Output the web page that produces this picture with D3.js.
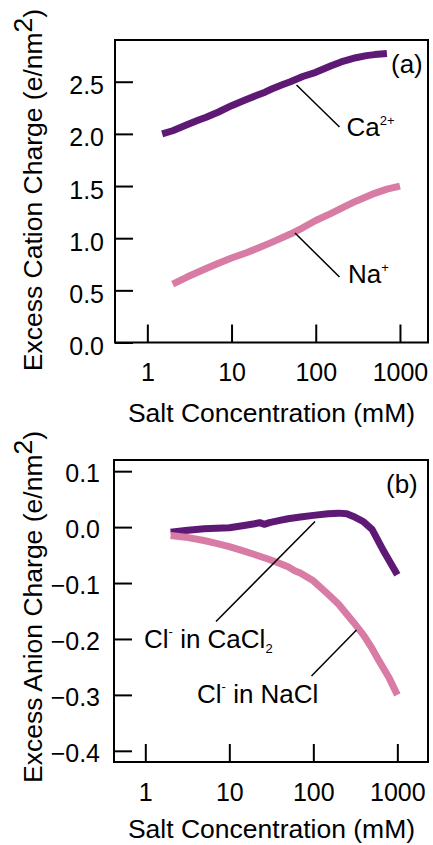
<!DOCTYPE html>
<html>
<head>
<meta charset="utf-8">
<script src="https://cdn.jsdelivr.net/npm/d3@7"></script>
<style>
  html, body { margin: 0; padding: 0; background: #fff; }
  svg { display: block; font-family: "Liberation Sans", Arial, Helvetica, sans-serif; }
</style>
</head>
<body>
<svg id="chart" width="433" height="845"></svg>
<script>
// Salt concentrations (mM) and excess charge (e/nm^2)
const caConc   = [1.5, 2, 3, 4, 5, 7, 10, 15, 20, 25, 30, 40, 50, 70, 100, 150, 200, 300, 400, 500, 700];
const caCation = [2.00, 2.03, 2.09, 2.13, 2.16, 2.21, 2.27, 2.33, 2.37, 2.40, 2.43, 2.47, 2.50, 2.55, 2.59, 2.65, 2.69, 2.73, 2.75, 2.76, 2.77];

const naConc   = [2, 3, 5, 7, 10, 15, 20, 30, 50, 70, 100, 150, 200, 300, 500, 700, 1000];
const naCation = [0.56, 0.63, 0.71, 0.76, 0.81, 0.86, 0.90, 0.96, 1.04, 1.10, 1.17, 1.235, 1.285, 1.355, 1.43, 1.47, 1.50];

const clCaConc  = [2, 3, 5, 7, 10, 15, 20, 23, 26, 30, 40, 50, 70, 100, 150, 200, 250, 300, 350, 400, 500, 700, 1000];
const clInCaCl2 = [-0.009, -0.006, -0.003, -0.002, -0.001, 0.003, 0.006, 0.008, 0.005, 0.008, 0.012, 0.015, 0.018, 0.021, 0.024, 0.025, 0.024, 0.019, 0.014, 0.009, -0.004, -0.045, -0.085];

const clNaConc  = [2, 3, 5, 7, 10, 15, 20, 30, 40, 50, 60, 70, 100, 150, 200, 300, 400, 500, 600, 700, 800, 1000];
const clInNaCl  = [-0.015, -0.018, -0.024, -0.029, -0.035, -0.043, -0.049, -0.058, -0.065, -0.071, -0.078, -0.082, -0.096, -0.120, -0.138, -0.170, -0.194, -0.217, -0.238, -0.255, -0.270, -0.300];

const xTicks  = [1, 10, 100, 1000];
const yTicksA = [0.0, 0.5, 1.0, 1.5, 2.0, 2.5];
const yTicksB = [-0.4, -0.3, -0.2, -0.1, 0.0, 0.1];

const PURPLE = "#5e1975";
const PINK   = "#d87ca6";

const svg = d3.select("#chart");

function panel(cfg) {
  const g = svg.append("g");
  const x = d3.scaleLog().domain(cfg.xDomain).range([cfg.left, cfg.right]);
  const y = d3.scaleLinear().domain(cfg.yDomain).range([cfg.bottom, cfg.top]);

  // y axis with inward ticks
  const ya = g.append("g")
    .attr("transform", `translate(${cfg.left},0)`)
    .call(d3.axisLeft(y).tickValues(cfg.yTicks).tickFormat(d3.format(".1f"))
      .tickSizeInner(-18).tickSizeOuter(0).tickPadding(cfg.yPad));
  ya.select(".domain").remove();
  ya.selectAll(".tick line").attr("stroke", "#000").attr("stroke-width", 2);
  ya.selectAll(".tick text").attr("font-size", 25).attr("fill", "#000")
    .attr("font-family", "Liberation Sans, Arial, sans-serif")
    .attr("dy", cfg.yDy);

  // x axis with inward ticks
  const xa = g.append("g")
    .attr("transform", `translate(0,${cfg.bottom})`)
    .call(d3.axisBottom(x).tickValues(xTicks).tickFormat(d3.format("d"))
      .tickSizeInner(-18).tickSizeOuter(0).tickPadding(21));
  xa.select(".domain").remove();
  xa.selectAll(".tick line").attr("stroke", "#000").attr("stroke-width", 2);
  xa.selectAll(".tick text").attr("font-size", 25).attr("fill", "#000")
    .attr("font-family", "Liberation Sans, Arial, sans-serif")
    .attr("dy", "0.71em");

  // frame
  g.append("rect")
    .attr("x", cfg.left).attr("y", cfg.top)
    .attr("width", cfg.right - cfg.left).attr("height", cfg.bottom - cfg.top)
    .attr("fill", "none").attr("stroke", "#000").attr("stroke-width", 2);

  const line = d3.line().x(d => x(d[0])).y(d => y(d[1]));
  cfg.series.forEach(s => {
    g.append("path")
      .datum(d3.zip(s.conc, s.vals))
      .attr("d", line)
      .attr("fill", "none")
      .attr("stroke", s.color)
      .attr("stroke-width", 7)
      .attr("stroke-linejoin", "round")
      .attr("stroke-linecap", "butt");
  });

  // axis titles
  g.append("text")
    .attr("x", 271.5).attr("y", cfg.bottom + cfg.xTitleGap)
    .attr("text-anchor", "middle").attr("font-size", 26.5)
    .text("Salt Concentration (mM)");

  const yt = g.append("text")
    .attr("transform", `translate(42,${cfg.yTitleCenter}) rotate(-90)`)
    .attr("text-anchor", "middle").attr("font-size", 26.5);
  yt.append("tspan").text(cfg.yTitle + " (e/nm");
  yt.append("tspan").attr("dy", -10).text("2");
  yt.append("tspan").attr("dy", 10).text(")");

  // panel tag
  g.append("text")
    .attr("x", cfg.tagX).attr("y", cfg.tagY)
    .attr("font-size", 26).text(cfg.tag);

  return { g, x, y };
}

// (a) cations
const a = panel({
  left: 115, right: 428, top: 40, bottom: 342.5,
  xDomain: [0.413, 2153], yDomain: [0, 2.9], yTicks: yTicksA,
  yPad: 11, yDy: "12px", xTitleGap: 79,
  yTitle: "Excess Cation Charge", yTitleCenter: 190,
  tag: "(a)", tagX: 391, tagY: 73,
  series: [
    { conc: caConc, vals: caCation, color: PURPLE },
    { conc: naConc, vals: naCation, color: PINK }
  ]
});

// (b) anions
const b = panel({
  left: 114, right: 428, top: 460, bottom: 762,
  xDomain: [0.424, 2317], yDomain: [-0.42, 0.12], yTicks: yTicksB,
  yPad: 14, yDy: "10.5px", xTitleGap: 76,
  yTitle: "Excess Anion Charge", yTitleCenter: 607,
  tag: "(b)", tagX: 386, tagY: 493,
  series: [
    { conc: clCaConc, vals: clInCaCl2, color: PURPLE },
    { conc: clNaConc, vals: clInNaCl, color: PINK }
  ]
});

// leader lines and series labels
function leader(g, x1, y1, x2, y2) {
  g.append("line").attr("x1", x1).attr("y1", y1).attr("x2", x2).attr("y2", y2)
    .attr("stroke", "#000").attr("stroke-width", 1.5);
}

leader(a.g, 296.5, 85, 339.5, 127);
leader(a.g, 295, 233, 339.5, 277);

const caLbl = a.g.append("text").attr("x", 346.5).attr("y", 136).attr("font-size", 26);
caLbl.append("tspan").text("Ca");
caLbl.append("tspan").attr("font-size", 13).attr("dy", -11.5).text("2+");

const naLbl = a.g.append("text").attr("x", 348).attr("y", 283).attr("font-size", 26);
naLbl.append("tspan").text("Na");
naLbl.append("tspan").attr("font-size", 13).attr("dy", -11.5).text("+");

leader(b.g, 315, 521.5, 216, 621.5);
leader(b.g, 356.5, 630, 311.5, 676);

const cl1 = b.g.append("text").attr("x", 144).attr("y", 648).attr("font-size", 26);
cl1.append("tspan").text("Cl");
cl1.append("tspan").attr("font-size", 13).attr("dy", -12).text("-");
cl1.append("tspan").attr("dy", 12).text(" in CaCl");
cl1.append("tspan").attr("font-size", 13).attr("dy", 5).text("2");

const cl2 = b.g.append("text").attr("x", 197).attr("y", 703).attr("font-size", 26);
cl2.append("tspan").text("Cl");
cl2.append("tspan").attr("font-size", 13).attr("dy", -12).text("-");
cl2.append("tspan").attr("dy", 12).text(" in NaCl");
</script>
</body>
</html>
